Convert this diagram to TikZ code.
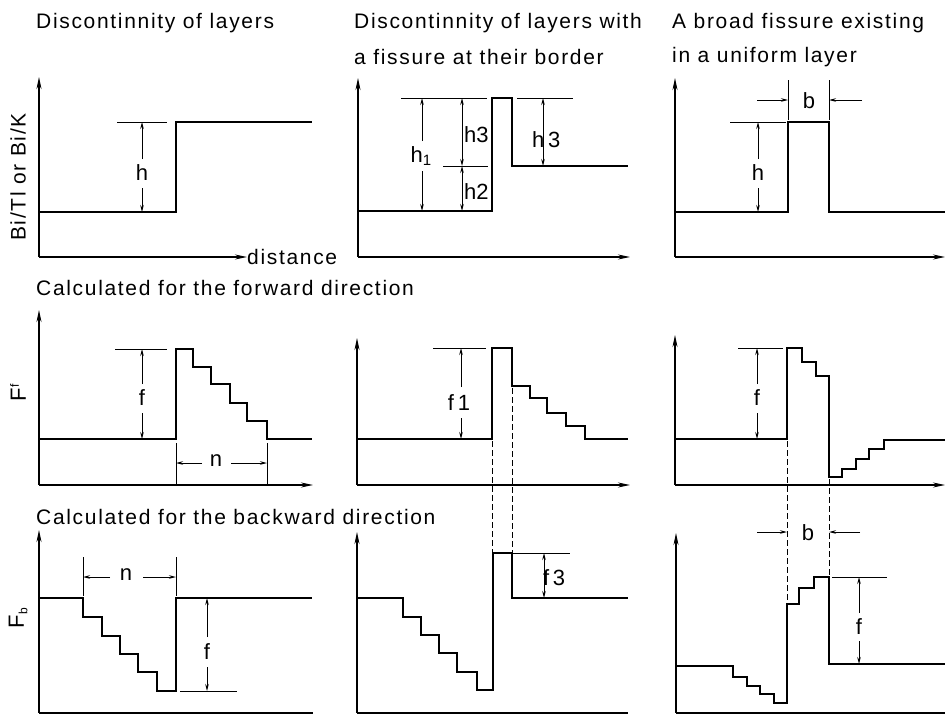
\documentclass[tikz,border=0pt]{standalone}
\usepackage{fontspec}
\setmainfont{Liberation Sans}
\newfontfamily\spacedfont[LetterSpace=8]{Liberation Sans}
\usetikzlibrary{arrows.meta}
\tikzset{
  curve/.style={line width=2.2pt, line join=miter},
  axis/.style={line width=1.3pt, {Stealth[length=12pt,width=5pt]}-},
  axisline/.style={line width=1.3pt},
  ext/.style={line width=0.9pt},
  dimar/.style={line width=0.9pt, -{Stealth[length=7pt,width=3.5pt]}},
  dimboth/.style={line width=0.9pt, {Stealth[length=7pt,width=3.5pt]}-{Stealth[length=7pt,width=3.5pt]}},
  dsh/.style={line width=0.8pt, dash pattern=on 6pt off 3pt},
  lab/.style={font=\fontsize{22}{24}\selectfont, inner sep=0pt},
  ttl/.style={font=\spacedfont\fontsize{21}{23}\selectfont, inner sep=0pt, anchor=west},
}
\begin{document}
\begin{tikzpicture}[x=1pt,y=-1pt]
\useasboundingbox[fill=white] (0,0) rectangle (946,715);

% ---------- titles ----------
\node[ttl] (t1) at (36,23) {Discontinnity of layers};
\node[ttl] (t2a) at (354,23) {Discontinnity of layers with};
\node[ttl] (t2b) at (354,57) {a fissure at their border};
\node[ttl] (t3a) at (672,23) {A broad fissure existing};
\node[ttl] (t3b) at (672,57) {in a uniform layer};
\node[ttl] (t4) at (36,288) {Calculated for the forward direction};
\node[ttl] (t7) at (36,517) {Calculated for the backward direction};

% ---------- y labels ----------
\node[ttl, anchor=center, rotate=90] (yl1) at (18,177) {Bi/Tl or Bi/K};
\node[lab, rotate=90] (yl2) at (18,393) {F\raisebox{0.6ex}{\fontsize{12}{12}\selectfont f}};
\node[lab, rotate=90] (yl3) at (18,618) {F\raisebox{-0.3ex}{\fontsize{12}{12}\selectfont b}};

% ================= Panel 1 =================
\draw[axis] (39,77) -- (39,257);
\draw[axisline,-{Stealth[length=12pt,width=5pt]}] (39,257) -- (247,257);
\node[ttl] (dist) at (247,257) {distance};
\draw[curve] (39,212) -- (176,212) -- (176,122) -- (312,122);
\draw[ext] (117,122) -- (167,122);
\node[lab] (h1l) at (142,173) {h};
\draw[dimar] (142,159) -- (142,122);
\draw[dimar] (142,188) -- (142,212);

% ================= Panel 2 =================
\draw[axis] (358,78) -- (358,257);
\draw[axisline,-{Stealth[length=12pt,width=5pt]}] (358,257) -- (630,257);
\draw[curve] (358,211) -- (492,211) -- (492,98) -- (512,98) -- (512,166) -- (628,166);
\draw[ext] (401,98) -- (487,98);
\draw[ext] (443,166) -- (488,166);
\draw[ext] (517,98) -- (573,98);
\node[lab] (h1) at (421,156) {h\raisebox{-0.2ex}{\fontsize{15}{15}\selectfont 1}};
\draw[dimar] (422,141) -- (422,98);
\draw[dimar] (422,171) -- (422,211);
\draw[dimboth] (462,98) -- (462,166);
\draw[dimboth] (462,166) -- (462,211);
\node[lab, anchor=west] (h3a) at (464,135) {h3};
\node[lab, anchor=west] (h2) at (464,192) {h2};
\draw[dimboth] (543,98) -- (543,166);
\node[lab, anchor=west] (h3b) at (532,140) {h\,3};

% ================= Panel 3 =================
\draw[axis] (675,78) -- (675,257);
\draw[axisline,-{Stealth[length=12pt,width=5pt]}] (675,257) -- (945,257);
\draw[curve] (675,212) -- (788,212) -- (788,122) -- (829,122) -- (829,212) -- (945,212);
\draw[ext] (730,122) -- (786,122);
\node[lab] (h3l) at (758,173) {h};
\draw[dimar] (758,159) -- (758,122);
\draw[dimar] (758,188) -- (758,212);
\draw[ext] (788,80) -- (788,120);
\draw[ext] (829,80) -- (829,120);
\draw[dimar] (757,100) -- (788,100);
\draw[dimar] (862,100) -- (829,100);
\node[lab] (b1) at (809,101) {b};

% ================= Panel 4 =================
\draw[axis] (39,310) -- (39,485);
\draw[axisline,-{Stealth[length=12pt,width=5pt]}] (39,485) -- (313,485);
\draw[curve] (39,439) -- (176,439) -- (176,349) -- (193,349) -- (193,367) -- (211,367) -- (211,384) -- (230,384) -- (230,403) -- (247,403) -- (247,421) -- (267,421) -- (267,439) -- (312,439);
\draw[ext] (115,349) -- (167,349);
\node[lab] (f4) at (142,398) {f};
\draw[dimar] (142,384) -- (142,349);
\draw[dimar] (142,413) -- (142,439);
\draw[ext] (176,443) -- (176,485);
\draw[ext] (267,443) -- (267,485);
\node[lab] (n4) at (216,461) {n};
\draw[dimar] (202,463) -- (176,463);
\draw[dimar] (231,463) -- (267,463);

% ================= Panel 5 =================
\draw[axis] (357,338) -- (357,485);
\draw[axisline,-{Stealth[length=12pt,width=5pt]}] (357,485) -- (630,485);
\draw[curve] (357,439) -- (492,439) -- (492,348) -- (512,348) -- (512,386) -- (530,386) -- (530,398) -- (547,398) -- (547,413) -- (566,413) -- (566,426) -- (585,426) -- (585,439) -- (628,439);
\draw[ext] (433,348) -- (486,348);
\node[lab] (f1) at (459,403) {f\,1};
\draw[dimar] (461,387) -- (461,348);
\draw[dimar] (461,418) -- (461,439);
\draw[dsh] (492,441) -- (492,553);
\draw[dsh] (512,388) -- (512,553);

% ================= Panel 6 =================
\draw[axis] (675,335) -- (675,485);
\draw[axisline,-{Stealth[length=12pt,width=5pt]}] (675,485) -- (945,485);
\draw[curve] (675,439) -- (787,439) -- (787,348) -- (802,348) -- (802,362) -- (816,362) -- (816,376) -- (829,376) -- (829,477) -- (842,477) -- (842,469) -- (856,469) -- (856,459) -- (869,459) -- (869,449) -- (884,449) -- (884,440) -- (945,440);
\draw[ext] (738,348) -- (783,348);
\node[lab] (f6) at (757,398) {f};
\draw[dimar] (757,384) -- (757,348);
\draw[dimar] (757,413) -- (757,439);
\draw[dsh] (787,441) -- (787,604);
\draw[dsh] (829,479) -- (829,577);

% ================= Panel 7 =================
\draw[axis] (39,530) -- (39,713);
\draw[axisline] (39,713) -- (313,713);
\draw[curve] (39,598) -- (83,598) -- (83,617) -- (102,617) -- (102,636) -- (120,636) -- (120,654) -- (138,654) -- (138,672) -- (157,672) -- (157,691) -- (176,691) -- (176,598) -- (312,598);
\draw[ext] (83,557) -- (83,596);
\draw[ext] (176,557) -- (176,596);
\node[lab] (n7) at (126,575) {n};
\draw[dimar] (110,577) -- (83,577);
\draw[dimar] (143,577) -- (176,577);
\draw[ext] (180,691) -- (237,691);
\node[lab] (f7) at (207,652) {f};
\draw[dimar] (207,637) -- (207,598);
\draw[dimar] (207,667) -- (207,691);

% ================= Panel 8 =================
\draw[axis] (357,532) -- (357,713);
\draw[axisline] (357,713) -- (628,713);
\draw[curve] (357,598) -- (403,598) -- (403,617) -- (421,617) -- (421,635) -- (439,635) -- (439,653) -- (457,653) -- (457,672) -- (477,672) -- (477,690) -- (493,690) -- (493,553) -- (512,553) -- (512,598) -- (628,598);
\draw[ext] (512,553) -- (570,553);
\draw[dimboth] (544,553) -- (544,598);
\node[lab, anchor=west] (f3) at (543,578) {f\,3};

% ================= Panel 9 =================
\draw[axis] (676,533) -- (676,713);
\draw[axisline] (676,713) -- (945,713);
\draw[curve] (676,666) -- (733,666) -- (733,677) -- (747,677) -- (747,686) -- (760,686) -- (760,694) -- (774,694) -- (774,703) -- (787,703) -- (787,604) -- (799,604) -- (799,588) -- (814,588) -- (814,577) -- (829,577) -- (829,664) -- (945,664);
\draw[dimar] (757,532) -- (787,532);
\draw[dimar] (860,532) -- (829,532);
\node[lab] (b9) at (808,533) {b};
\draw[ext] (832,577) -- (887,577);
\node[lab] (f9) at (859,627) {f};
\draw[dimar] (859,613) -- (859,577);
\draw[dimar] (859,641) -- (859,664);
\end{tikzpicture}
\end{document}
